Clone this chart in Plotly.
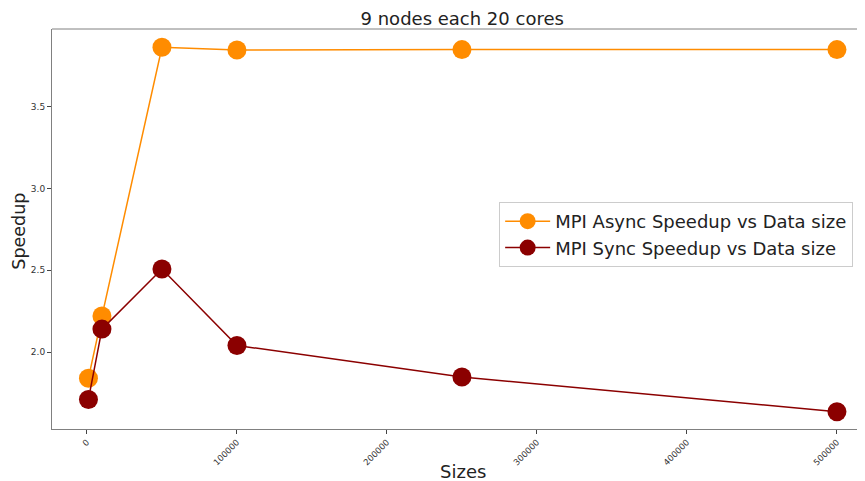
import plotly.graph_objects as go

sizes = [1000, 10000, 50000, 100000, 250000, 500000]
async_speedup = [1.84, 2.22, 3.864, 3.847, 3.850, 3.850]
sync_speedup = [1.71, 2.14, 2.508, 2.04, 1.847, 1.635]

x_tickvals = [0, 100000, 200000, 300000, 400000, 500000]
x_ticktext = ["0", "100000", "200000", "300000", "400000", "500000"]
y_tickvals = [2.0, 2.5, 3.0, 3.5]
y_ticktext = ["2.0", "2.5", "3.0", "3.5"]

font = "DejaVu Sans"

fig = go.Figure()
fig.add_trace(go.Scatter(
    x=sizes, y=async_speedup, mode="lines+markers",
    name="MPI Async Speedup vs Data size",
    line=dict(color="#FF8C00", width=1.5),
    marker=dict(color="#FF8C00", size=19),
))
fig.add_trace(go.Scatter(
    x=sizes, y=sync_speedup, mode="lines+markers",
    name="MPI Sync Speedup vs Data size",
    line=dict(color="#8B0000", width=1.5),
    marker=dict(color="#8B0000", size=19),
))

fig.update_layout(
    width=857, height=473,
    margin=dict(l=44, r=0, t=21, b=52, autoexpand=False),
    paper_bgcolor="white", plot_bgcolor="white",
    font=dict(family=font, color="#222"),
    title=dict(text="9 nodes each 20 cores", x=0.53, xanchor="center",
               y=0.977, yanchor="middle", font=dict(size=18, color="#222")),
    showlegend=True,
    legend=dict(x=0.55, y=0.5675, xanchor="left", yanchor="top",
                bgcolor="white", bordercolor="#cccccc", borderwidth=1,
                font=dict(size=18, color="#222"), itemsizing="trace",
                itemwidth=45, tracegroupgap=0),
    xaxis=dict(range=[-23300, 518700], tickvals=x_tickvals, ticktext=x_ticktext,
               tickangle=-45, tickfont=dict(size=8.5, color="#333"), automargin=False,
               showgrid=False, zeroline=False, showline=True, linecolor="#808080",
               linewidth=1, ticks="outside", ticklen=4, tickcolor="#444"),
    yaxis=dict(range=[1.529, 3.976], tickvals=y_tickvals, ticktext=y_ticktext,
               tickfont=dict(size=9, color="#333"), automargin=False,
               showgrid=False, zeroline=False, showline=True, linecolor="#808080",
               linewidth=1, ticks="outside", ticklen=4, tickcolor="#444"),
    shapes=[dict(type="line", xref="paper", yref="paper", x0=0, x1=1, y0=1, y1=1,
                 line=dict(color="#808080", width=1))],
    annotations=[
        dict(text="Sizes", xref="paper", yref="paper", x=0.505, y=-0.105,
             xanchor="center", yanchor="middle", showarrow=False,
             font=dict(size=18, color="#222")),
        dict(text="Speedup", xref="paper", yref="paper", x=-0.041, y=0.495,
             xanchor="center", yanchor="middle", showarrow=False, textangle=-90,
             font=dict(size=17.5, color="#222")),
    ],
)

fig.write_html("out.html")
